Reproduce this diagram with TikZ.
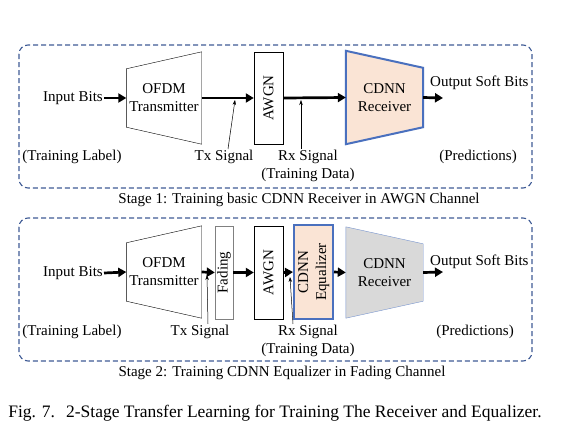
\documentclass[tikz,border=0pt]{standalone}
\usepackage{fontspec}
\setmainfont{Liberation Serif}
\usetikzlibrary{arrows.meta,backgrounds}
\definecolor{framec}{HTML}{3F5B95}
\definecolor{peach}{HTML}{FAE4D5}
\definecolor{netblue}{HTML}{4A70BE}
\definecolor{netgray}{HTML}{D9D9D9}
\newcommand{\ins}{17pt}

\begin{document}
\begin{tikzpicture}[x=1pt, y=-1pt, font=\fontsize{15}{18}\selectfont,
    frame/.style={draw=framec, dash pattern=on 5pt off 3pt, rounded corners=9pt, line width=1.1pt},
    box/.style={draw, rectangle, minimum width=29pt, minimum height=92pt, inner sep=0pt},
    trap/.style={rectangle, inner sep=0pt, align=center, minimum width=75pt, minimum height=92pt},
    flow/.style={-{Triangle[length=8pt,width=9pt]}, line width=2.7pt},
    pointer/.style={-{Stealth[length=5pt,width=3.5pt]}, line width=0.5pt},
    txt/.style={inner sep=1pt, align=center}]
    \useasboundingbox (0,0) rectangle (575,437);

    % Stage 1
    \draw[frame] (19,45) rectangle (532,188);
    \node[txt, anchor=east] (inp1) at (104,98) {Input Bits};
    \node[trap] (tx1) at (164,98) {OFDM\\Transmitter};
    \node[box] (awgn1) at (268.5,98) {\rotatebox{90}{AWGN}};
    \node[trap, minimum width=77pt, minimum height=93pt] (rx1) at (384.5,97.5) {CDNN\\Receiver};
    \coordinate (out1) at (443,98);
    \node[txt, anchor=west] (outl1) at (429,83) {Output Soft Bits};
    \begin{scope}[on background layer]
        \draw (tx1.north east) -- (tx1.south east) -- ([yshift=\ins]tx1.south west) -- ([yshift=-\ins]tx1.north west) -- cycle;
        \draw[fill=peach, draw=netblue, line width=2pt] (rx1.north west) -- ([yshift=-\ins]rx1.north east) -- ([yshift=\ins]rx1.south east) -- (rx1.south west) -- cycle;
    \end{scope}
    \draw[flow] (inp1.east) -- (tx1.west);
    \draw[flow] (tx1.east) -- (awgn1.west);
    \draw[flow] (awgn1.east) -- (rx1.west);
    \draw[flow] (rx1.east) -- (out1);

    \node[txt] (lab1) at (72,157) {(Training Label)};
    \node[txt] (txl1) at (224,157) {Tx Signal};
    \node[txt] (rxl1) at (308,166) {Rx Signal\\(Training Data)};
    \node[txt] (pred1) at (478,157) {(Predictions)};
    \coordinate (txp1) at (235,100);
    \coordinate (rxp1) at (301,100);
    \draw[pointer] ([xshift=4pt]txl1.north) -- (txp1);
    \draw[pointer] (rxl1.north -| rxp1) -- (rxp1);
    \node[txt] (cap1) at (299,200) {Stage 1: Training basic CDNN Receiver in AWGN Channel};

    % Stage 2
    \draw[frame] (19,218) rectangle (532,361);
    \node[txt, anchor=east] (inp2) at (104,273) {Input Bits};
    \node[trap] (tx2) at (164,272) {OFDM\\Transmitter};
    \node[box, draw=black!50, minimum width=18pt, minimum height=93pt] (fad2) at (224,272.5) {\rotatebox{90}{Fading}};
    \node[box, minimum height=93pt] (awgn2) at (268.5,272.5) {\rotatebox{90}{AWGN}};
    \node[box, fill=peach, draw=netblue, line width=2pt, minimum width=39pt, minimum height=94pt] (eq2) at (313.5,272)
        {\rotatebox{90}{\begin{tabular}{@{}c@{}}CDNN\\Equalizer\end{tabular}}};
    \node[trap, minimum width=77pt, minimum height=91pt] (rx2) at (384.5,272.5) {CDNN\\Receiver};
    \coordinate (out2) at (443,272);
    \node[txt, anchor=west] (outl2) at (429,262) {Output Soft Bits};
    \begin{scope}[on background layer]
        \draw (tx2.north east) -- (tx2.south east) -- ([yshift=\ins]tx2.south west) -- ([yshift=-\ins]tx2.north west) -- cycle;
        \draw[fill=netgray, draw=netblue!75] (rx2.north west) -- ([yshift=-\ins]rx2.north east) -- ([yshift=\ins]rx2.south east) -- (rx2.south west) -- cycle;
    \end{scope}
    \draw[flow] (inp2.east) -- (tx2.west);
    \draw[flow] (tx2.east) -- (fad2.west);
    \draw[flow] (fad2.east) -- (awgn2.west);
    \draw[flow] (awgn2.east) -- (eq2.west);
    \draw[flow] (eq2.east) -- (rx2.west);
    \draw[flow] (rx2.east) -- (out2);

    \node[txt] (lab2) at (72,332) {(Training Label)};
    \node[txt] (txl2) at (200,332) {Tx Signal};
    \node[txt] (rxl2) at (308,341) {Rx Signal\\(Training Data)};
    \node[txt] (pred2) at (475,332) {(Predictions)};
    \coordinate (txp2) at (207,275);
    \coordinate (rxp2) at (290,277);
    \draw[pointer] ([xshift=8pt]txl2.north) -- (txp2);
    \draw[pointer] ([xshift=-15pt]rxl2.north) -- (rxp2);
    \node[txt] (cap2) at (282,373) {Stage 2: Training CDNN Equalizer in Fading Channel};

    % Figure caption
    \node[txt, font=\fontsize{17.5}{21}\selectfont] (fig) at (275,413) {Fig. 7.\hspace{0.3em} 2-Stage Transfer Learning for Training The Receiver and Equalizer.};
\end{tikzpicture}
\end{document}
